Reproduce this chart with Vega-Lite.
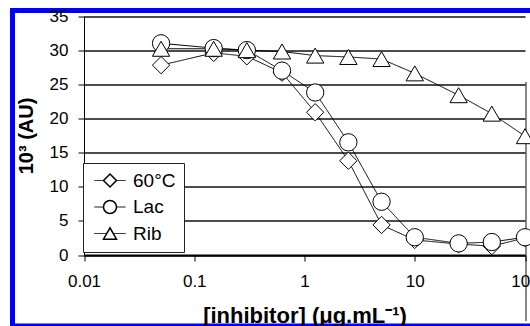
{
  "$schema": "https://vega.github.io/schema/vega-lite/v6.json",
  "width": 521,
  "height": 315.5,
  "autosize": {"type": "none"},
  "padding": {"left": 12.5, "top": 10.5, "right": 0, "bottom": 0},
  "background": "white",
  "config": {
    "view": {"stroke": "#0000ff", "strokeWidth": 5, "fill": "white"},
    "font": "Liberation Sans",
    "axis": {"labelColor": "black", "titleColor": "black", "tickColor": "black", "domainColor": "black"}
  },
  "data": {
    "values": [
      {"conc": 0.05, "value": 27.8, "series": "60°C"},
      {"conc": 0.15, "value": 29.6, "series": "60°C"},
      {"conc": 0.3, "value": 29.1, "series": "60°C"},
      {"conc": 0.625, "value": 26.7, "series": "60°C"},
      {"conc": 1.25, "value": 20.9, "series": "60°C"},
      {"conc": 2.5, "value": 13.8, "series": "60°C"},
      {"conc": 5, "value": 4.4, "series": "60°C"},
      {"conc": 10, "value": 2.2, "series": "60°C"},
      {"conc": 25, "value": 1.6, "series": "60°C"},
      {"conc": 50, "value": 1.3, "series": "60°C"},
      {"conc": 100, "value": 2.5, "series": "60°C"},
      {"conc": 0.05, "value": 31.0, "series": "Lac"},
      {"conc": 0.15, "value": 30.3, "series": "Lac"},
      {"conc": 0.3, "value": 30.0, "series": "Lac"},
      {"conc": 0.625, "value": 27.0, "series": "Lac"},
      {"conc": 1.25, "value": 23.8, "series": "Lac"},
      {"conc": 2.5, "value": 16.5, "series": "Lac"},
      {"conc": 5, "value": 7.8, "series": "Lac"},
      {"conc": 10, "value": 2.6, "series": "Lac"},
      {"conc": 25, "value": 1.7, "series": "Lac"},
      {"conc": 50, "value": 1.9, "series": "Lac"},
      {"conc": 100, "value": 2.6, "series": "Lac"},
      {"conc": 0.05, "value": 30.2, "series": "Rib"},
      {"conc": 0.15, "value": 30.2, "series": "Rib"},
      {"conc": 0.3, "value": 30.0, "series": "Rib"},
      {"conc": 0.625, "value": 29.8, "series": "Rib"},
      {"conc": 1.25, "value": 29.2, "series": "Rib"},
      {"conc": 2.5, "value": 29.0, "series": "Rib"},
      {"conc": 5, "value": 28.7, "series": "Rib"},
      {"conc": 10, "value": 26.6, "series": "Rib"},
      {"conc": 25, "value": 23.4, "series": "Rib"},
      {"conc": 50, "value": 20.7, "series": "Rib"},
      {"conc": 100, "value": 17.4, "series": "Rib"}
    ]
  },
  "encoding": {
    "x": {
      "field": "conc",
      "type": "quantitative",
      "scale": {"type": "log", "domain": [0.01, 100], "range": [71.5, 512.5]},
      "axis": {
        "orient": "bottom",
        "offset": -71,
        "values": [0.01, 0.1, 1, 10, 100],
        "format": "~g",
        "labelFlush": false,
        "labelOverlap": false,
        "labelFontSize": 17,
        "labelPadding": 12,
        "tickSize": 6,
        "tickWidth": 1,
        "domainWidth": 2,
        "grid": true,
        "gridColor": {"condition": {"test": "datum.value === 100", "value": "#888888"}, "value": "rgba(0,0,0,0)"},
        "gridWidth": 2,
        "title": "[inhibitor] (μg.mL⁻¹)",
        "titleFontSize": 22,
        "titleFontWeight": "bold",
        "titlePadding": 16
      }
    },
    "y": {
      "field": "value",
      "type": "quantitative",
      "scale": {"domain": [0, 35], "range": [244.5, 5.5], "nice": false, "zero": false},
      "axis": {
        "orient": "left",
        "offset": -71.5,
        "values": [0, 5, 10, 15, 20, 25, 30, 35],
        "labelFontSize": 17,
        "labelPadding": 10,
        "tickSize": 6,
        "tickWidth": 1,
        "domainWidth": 1,
        "grid": true,
        "gridColor": "#111111",
        "gridWidth": 1.3,
        "title": "10³ (AU)",
        "titleFontSize": 20,
        "titleFontWeight": "bold",
        "titlePadding": 13
      }
    }
  },
  "layer": [
    {
      "mark": {"type": "line", "color": "black", "strokeWidth": 1},
      "encoding": {
        "strokeDash": {
          "field": "series",
          "type": "nominal",
          "scale": {"domain": ["60°C", "Lac", "Rib"], "range": [[1, 0], [1, 0], [1, 0]]},
          "legend": {
            "orient": "none",
            "legendX": 70.5,
            "legendY": 152.5,
            "title": null,
            "zindex": 1,
            "fillColor": "white",
            "strokeColor": "#222222",
            "padding": 8,
            "rowPadding": 6.5,
            "symbolType": "M-2.4,0L2.4,0",
            "symbolSize": 169,
            "symbolOffset": 9.5,
            "symbolStrokeColor": "black",
            "symbolStrokeWidth": 1,
            "labelFontSize": 19,
            "labelOffset": 13.5,
            "labelColor": "rgba(0,0,0,0)"
          }
        }
      }
    },
    {
      "mark": {"type": "point", "filled": false, "fill": "white", "stroke": "black", "strokeWidth": 1, "opacity": 1, "size": 300},
      "encoding": {
        "shape": {
          "field": "series",
          "type": "nominal",
          "scale": {"range": ["diamond", "circle", "triangle-up"]},
          "legend": {
            "orient": "none",
            "legendX": 70.5,
            "legendY": 152.5,
            "title": null,
            "zindex": 2,
            "padding": 8,
            "rowPadding": 6.5,
            "symbolSize": 169,
            "symbolOffset": 9.5,
            "symbolFillColor": "white",
            "labelFontSize": 19,
            "labelOffset": 13.5,
            "labelColor": "black"
          }
        }
      }
    }
  ]
}
